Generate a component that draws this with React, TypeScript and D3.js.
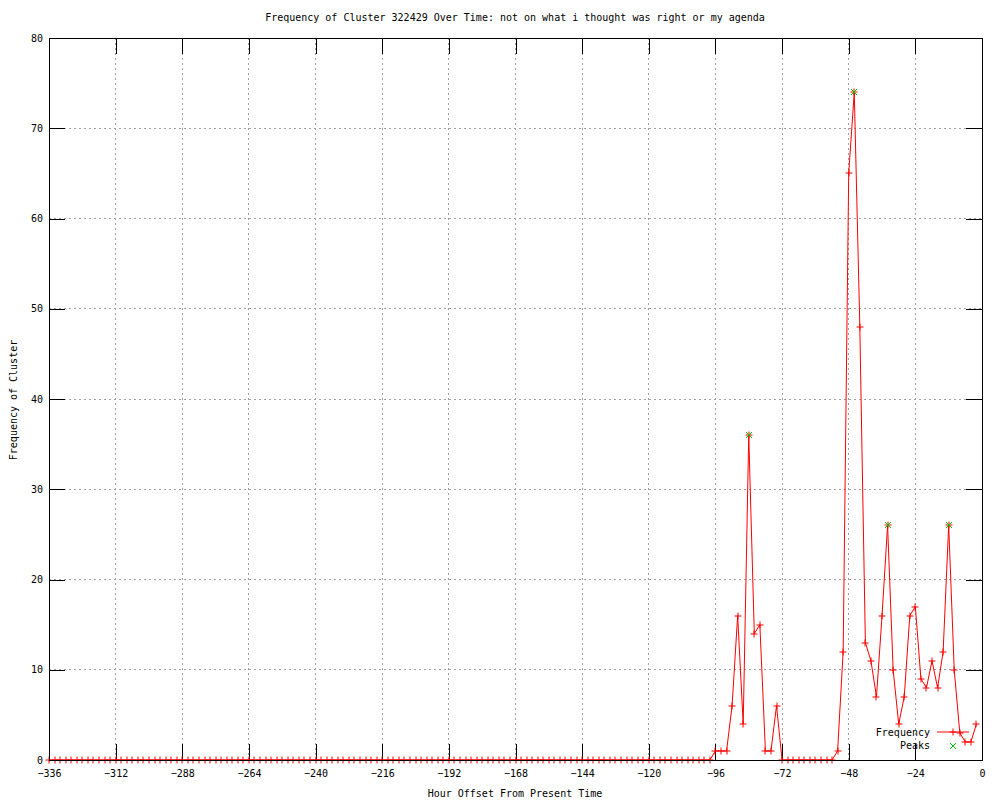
import React, { useEffect, useRef } from "react";
import * as d3 from "d3";

// --- Data: hour offsets (every 2 hours) and cluster counts ---
const hours = d3.range(-336, 0, 2);
const frequency = [
  0, 0, 0, 0, 0, 0, 0, 0, 0, 0, 0, 0, 0, 0, 0, 0, 0, 0, 0, 0,
  0, 0, 0, 0, 0, 0, 0, 0, 0, 0, 0, 0, 0, 0, 0, 0, 0, 0, 0, 0,
  0, 0, 0, 0, 0, 0, 0, 0, 0, 0, 0, 0, 0, 0, 0, 0, 0, 0, 0, 0,
  0, 0, 0, 0, 0, 0, 0, 0, 0, 0, 0, 0, 0, 0, 0, 0, 0, 0, 0, 0,
  0, 0, 0, 0, 0, 0, 0, 0, 0, 0, 0, 0, 0, 0, 0, 0, 0, 0, 0, 0,
  0, 0, 0, 0, 0, 0, 0, 0, 0, 0, 0, 0, 0, 0, 0, 0, 0, 0, 0, 0,
  // -96 .. -74
  1, 1, 1, 6, 16, 4, 36, 14, 15, 1, 1, 6,
  // -72 .. -54
  0, 0, 0, 0, 0, 0, 0, 0, 0, 0,
  // -52 .. -2
  1, 12, 65, 74, 48, 13, 11, 7, 16, 26, 10, 4, 7, 16, 17, 9, 8, 11, 8, 12, 26, 10, 3, 2, 2, 4,
];

const peakHours = [-84, -46, -34, -12];
const peakValues = [36, 74, 26, 26];

const xTicks = [-336, -312, -288, -264, -240, -216, -192, -168, -144, -120, -96, -72, -48, -24, 0];
const yTicks = [0, 10, 20, 30, 40, 50, 60, 70, 80];

const title = "Frequency of Cluster 322429 Over Time: not on what i thought was right or my agenda";
const FONT = "'DejaVu Sans Mono', 'Liberation Mono', monospace";

export default function App() {
  const svgRef = useRef<SVGSVGElement>(null);

  useEffect(() => {
    document.body.style.margin = "0";
    const svg = d3.select(svgRef.current);
    svg.selectAll("*").remove();

    const left = 49, right = 982, top = 38, bottom = 760;

    const x = d3.scaleLinear().domain([-336, 0]).range([left, right]);
    const y = d3.scaleLinear().domain([0, 80]).range([bottom, top]);

    svg.append("rect").attr("width", 1000).attr("height", 800).attr("fill", "#fff");

    // --- Grid ---
    const grid = svg.append("g").attr("stroke", "#a0a0a0").attr("stroke-dasharray", "2,3")
      .attr("shape-rendering", "crispEdges");
    grid.selectAll(".gx").data(xTicks.slice(1, -1)).join("line")
      .attr("x1", d => x(d)).attr("x2", d => x(d)).attr("y1", top).attr("y2", bottom);
    grid.selectAll(".gy").data(yTicks.slice(1, -1)).join("line")
      .attr("x1", left).attr("x2", right).attr("y1", d => y(d)).attr("y2", d => y(d));

    // --- Axes (ticks inward) ---
    const styleAxis = (g: any, showText: boolean) => {
      g.select(".domain").remove();
      g.selectAll("line").attr("stroke", "#000").attr("shape-rendering", "crispEdges");
      g.selectAll("text")
        .attr("fill", "#000")
        .style("font-family", FONT)
        .style("font-size", "10px")
        .style("display", showText ? null : "none");
    };

    svg.append("g").attr("transform", `translate(0,${bottom})`)
      .call(d3.axisBottom(x).tickValues(xTicks).tickSize(-16).tickPadding(10).tickFormat(d3.format("d")))
      .call(g => styleAxis(g, true));
    svg.append("g").attr("transform", `translate(0,${top})`)
      .call(d3.axisTop(x).tickValues(xTicks).tickSize(-16))
      .call(g => styleAxis(g, false));
    svg.append("g").attr("transform", `translate(${left},0)`)
      .call(d3.axisLeft(y).tickValues(yTicks).tickSize(-16).tickPadding(6).tickFormat(d3.format("d")))
      .call(g => styleAxis(g, true));
    svg.append("g").attr("transform", `translate(${right},0)`)
      .call(d3.axisRight(y).tickValues(yTicks).tickSize(-16))
      .call(g => styleAxis(g, false));

    // --- Frequency line + markers ---
    const pts = hours.map((h, i) => [h, frequency[i]] as [number, number]);
    const line = d3.line<[number, number]>().x(d => x(d[0])).y(d => y(d[1]));
    svg.append("path").datum(pts).attr("d", line).attr("fill", "none").attr("stroke", "#ff0000").attr("stroke-width", 1);

    const plus = "M-3.5,0H3.5M0,-3.5V3.5";
    const cross = "M-3,-3L3,3M-3,3L3,-3";
    svg.append("g").selectAll("path").data(pts).join("path")
      .attr("transform", d => `translate(${Math.round(x(d[0]))},${Math.round(y(d[1]))})`)
      .attr("d", plus).attr("stroke", "#ff0000").attr("fill", "none");

    // --- Peaks ---
    svg.append("g").selectAll("path").data(peakHours).join("path")
      .attr("transform", (d, i) => `translate(${Math.round(x(d))},${Math.round(y(peakValues[i]))})`)
      .attr("d", cross).attr("stroke", "#00c000").attr("fill", "none");

    // --- Border ---
    svg.append("rect")
      .attr("x", left).attr("y", top).attr("width", right - left).attr("height", bottom - top)
      .attr("fill", "none").attr("stroke", "#000").attr("shape-rendering", "crispEdges");

    // --- Legend ---
    const lg = svg.append("g").style("font-family", FONT).style("font-size", "10px");
    lg.append("text").attr("x", 930).attr("y", 733).attr("text-anchor", "end")
      .attr("dominant-baseline", "middle").text("Frequency");
    lg.append("line").attr("x1", 937).attr("x2", 969).attr("y1", 732).attr("y2", 732).attr("stroke", "#ff0000");
    lg.append("path").attr("transform", "translate(953,732)").attr("d", plus).attr("stroke", "#ff0000");
    lg.append("text").attr("x", 930).attr("y", 746).attr("text-anchor", "end")
      .attr("dominant-baseline", "middle").text("Peaks");
    lg.append("path").attr("transform", "translate(953,746)").attr("d", cross).attr("stroke", "#00c000");

    // --- Titles ---
    svg.append("text").attr("x", 515).attr("y", 21).attr("text-anchor", "middle")
      .style("font-family", FONT).style("font-size", "10px").text(title);
    svg.append("text").attr("x", 515).attr("y", 797).attr("text-anchor", "middle")
      .style("font-family", FONT).style("font-size", "10px").text("Hour Offset From Present Time");
    svg.append("text").attr("transform", "translate(17,400) rotate(-90)").attr("text-anchor", "middle")
      .style("font-family", FONT).style("font-size", "10px").text("Frequency of Cluster");
  }, []);

  return <svg ref={svgRef} width={1000} height={800} style={{ display: "block" }} />;
}
